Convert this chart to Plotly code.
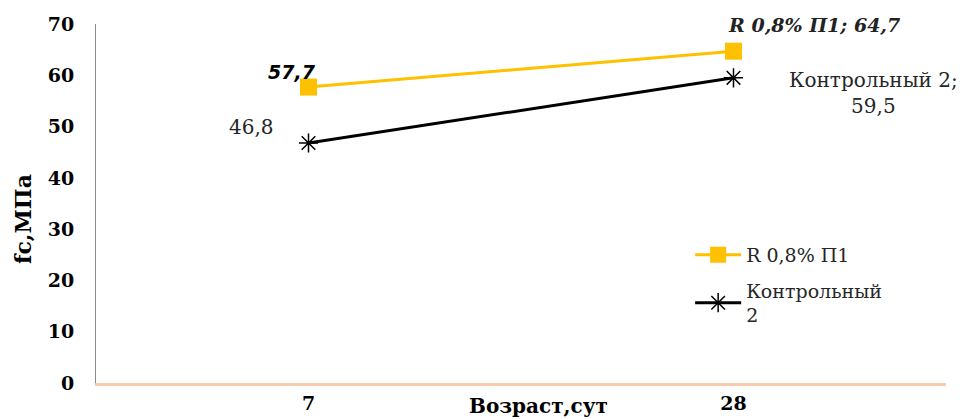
import plotly.graph_objects as go

categories = ["7", "28"]
series_names = ["R 0,8% П1", "Контрольный 2"]
legend_names = ["R 0,8% П1", "Контрольный<br>2"]
r_values = [57.7, 64.7]
k_values = [46.8, 59.5]
y_ticks = [0, 10, 20, 30, 40, 50, 60, 70]

SERIF = "DejaVu Serif"
SANS = "DejaVu Sans"

# page body has an 8px margin; figure is sized to fit the 971x419 window
W, H = 963, 411
L, R, T, B = 88, 25, 16, 36
PW, PH = W - L - R, H - T - B

fig = go.Figure()
fig.add_trace(go.Scatter(
    x=categories, y=r_values, name=legend_names[0], mode="lines+markers",
    legendgroup="r",
    line=dict(color="#FFC000", width=3),
    marker=dict(symbol="square", size=17, color="#FFC000"),
))
fig.add_trace(go.Scatter(
    x=categories, y=k_values, name=legend_names[1], mode="lines+markers",
    legendgroup="k",
    line=dict(color="#000000", width=3),
    marker=dict(symbol="asterisk-open", size=16, color="#000000",
                line=dict(width=1.5, color="#000000")),
))

def fmt(v):
    return f"{v:.1f}".replace(".", ",")

# data labels (x given as category index)
fig.add_annotation(x=0, y=r_values[0], text="<b><i>" + fmt(r_values[0]) + "</i></b>",
                   showarrow=False, xshift=-17, yshift=15,
                   font=dict(family=SANS, size=19, color="#000"))
fig.add_annotation(x=1, y=r_values[1],
                   text="<b><i>" + series_names[0] + "; " + fmt(r_values[1]) + "</i></b>",
                   showarrow=False, xshift=80, yshift=26,
                   font=dict(family=SERIF, size=19, color="#222"))
fig.add_annotation(x=0, y=k_values[0], text=fmt(k_values[0]),
                   showarrow=False, xshift=-57, yshift=16,
                   font=dict(family=SERIF, size=20, color="#262626"))
fig.add_annotation(x=1, y=k_values[1], text=series_names[1] + ";<br>" + fmt(k_values[1]),
                   showarrow=False, xshift=140, yshift=-15,
                   font=dict(family=SERIF, size=20, color="#262626"))

# axis titles
fig.add_annotation(xref="paper", yref="paper", x=(538 - 96) / PW, y=-(406 - 383) / PH,
                   text="<b>Возраст,сут</b>", showarrow=False, xanchor="center", yanchor="middle",
                   font=dict(family=SERIF, size=20, color="#000"))
fig.add_annotation(xref="paper", yref="paper", x=-(96 - 23) / PW, y=(383 - 219) / PH,
                   text="<b>fc,МПа</b>", showarrow=False, textangle=-90,
                   xanchor="center", yanchor="middle",
                   font=dict(family=SERIF, size=22, color="#000"))

fig.update_layout(
    width=W, height=H,
    margin=dict(l=L, r=R, t=T, b=B, autoexpand=False),
    paper_bgcolor="white", plot_bgcolor="white",
    showlegend=True,
    legend=dict(x=0.699, y=0.41, xanchor="left", yanchor="top",
                font=dict(family=SERIF, size=19, color="#262626"),
                bgcolor="rgba(0,0,0,0)", tracegroupgap=8, itemwidth=46),
    xaxis=dict(type="category", range=[-0.5, 1.5], showgrid=False, automargin=False,
               showline=True, linecolor="#F8CBAD", linewidth=2.5,
               ticks="", ticklabelstandoff=1,
               tickfont=dict(family=SERIF, size=19, color="#000", weight="bold"),
               zeroline=False),
    yaxis=dict(range=[0, 70], tickvals=y_ticks, showgrid=False, automargin=False,
               showline=True, linecolor="#8c8c8c", linewidth=1,
               ticks="", ticklabelstandoff=17,
               tickfont=dict(family=SERIF, size=19, color="#000", weight="bold"),
               zeroline=False),
)

fig.write_html("out.html")
